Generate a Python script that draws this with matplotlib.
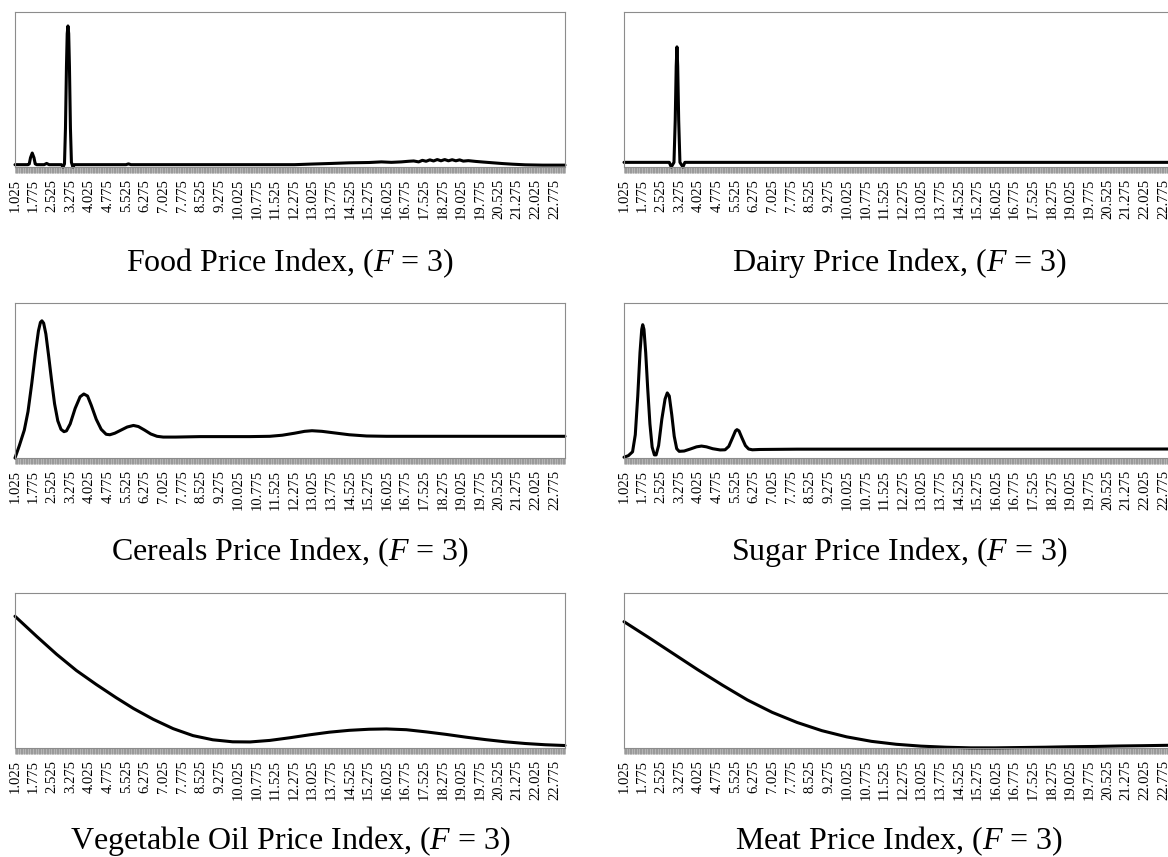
import matplotlib
matplotlib.use('Agg')
import matplotlib.pyplot as plt
import numpy as np

plt.rcParams['font.family'] = 'Liberation Serif'
plt.rcParams['mathtext.fontset'] = 'custom'
plt.rcParams['mathtext.rm'] = 'Liberation Serif'
plt.rcParams['mathtext.it'] = 'Liberation Serif:italic'

# x axis: frequencies 1.025 .. 23.2, step 0.025, labels every 0.75
x_first = 1.025
x_last = 23.2
x_step = 0.025
label_every = 0.75

# values, in percent of panel height
food_x = [1.025, 1.55, 1.6, 1.65, 1.72, 1.79, 1.84, 1.9, 2.2, 2.3, 2.4, 2.9, 2.96, 3.02,
          3.06, 3.1, 3.13, 3.16, 3.19, 3.22, 3.26, 3.3, 3.36, 3.42, 5.5, 5.6, 5.7, 12.3,
          13.0, 13.8, 14.5, 15.3, 15.8, 16.2, 16.6, 16.9, 17.1, 17.3, 17.45, 17.6, 17.75,
          17.9, 18.05, 18.2, 18.35, 18.5, 18.65, 18.8, 18.95, 19.1, 19.3, 19.6, 19.9,
          20.3, 20.7, 21.1, 21.6, 22.3, 23.2]
food_y = [1.5, 1.5, 2.0, 6.0, 9.0, 6.0, 2.0, 1.5, 1.5, 2.3, 1.5, 1.5, 0.0, 2.0,
          25.0, 65.0, 86.0, 91.0, 86.0, 65.0, 25.0, 3.0, 0.0, 1.5, 1.5, 2.0, 1.5, 1.5,
          1.9, 2.3, 2.7, 2.9, 3.3, 3.0, 3.3, 3.7, 3.9, 3.3, 4.3, 3.7, 4.6,
          3.9, 4.8, 4.0, 4.8, 4.0, 4.7, 4.0, 4.6, 3.8, 4.1, 3.6, 3.2,
          2.7, 2.2, 1.8, 1.4, 1.2, 1.2]

dairy_x = [1.025, 2.85, 2.93, 3.04, 3.09, 3.13, 3.16, 3.19, 3.23, 3.28, 3.4, 3.48, 23.2]
dairy_y = [3.0, 3.0, 0.0, 3.0, 30.0, 65.0, 77.5, 65.0, 30.0, 3.0, 0.0, 3.0, 3.0]

cereals_x = [1.025, 1.2, 1.4, 1.55, 1.7, 1.85, 1.97, 2.05, 2.11, 2.18, 2.27, 2.38, 2.5,
             2.62, 2.75, 2.88, 3.0, 3.1, 3.25, 3.45, 3.65, 3.8, 3.95, 4.1, 4.3, 4.5,
             4.7, 4.85, 5.05, 5.3, 5.55, 5.8, 6.0, 6.25, 6.5, 6.75, 7.0, 7.5, 8.5,
             10.5, 11.3, 11.8, 12.3, 12.7, 13.0, 13.4, 13.9, 14.5, 15.2, 16.0, 23.2]
cereals_y = [0.0, 8.0, 18.0, 30.0, 48.0, 68.0, 82.0, 87.5, 88.5, 87.0, 80.0, 66.0, 50.0,
             35.0, 24.0, 18.5, 17.0, 17.5, 22.0, 32.0, 39.5, 41.3, 40.0, 34.0, 25.0, 18.5,
             15.3, 15.0, 16.0, 18.0, 20.0, 21.0, 20.3, 18.0, 15.5, 14.0, 13.5, 13.5, 13.8,
             13.8, 14.0, 14.7, 16.0, 17.2, 17.6, 17.2, 16.2, 15.0, 14.2, 14.0, 14.0]

sugar_x = [1.025, 1.2, 1.37, 1.48, 1.58, 1.67, 1.74, 1.78, 1.83, 1.9, 1.98, 2.07, 2.16,
           2.25, 2.32, 2.42, 2.55, 2.68, 2.77, 2.85, 2.95, 3.05, 3.15, 3.25, 3.45, 3.7,
           3.95, 4.15, 4.35, 4.6, 4.9, 5.1, 5.25, 5.4, 5.52, 5.58, 5.66, 5.78, 5.92,
           6.05, 6.2, 6.5, 8.0, 23.2]
sugar_y = [0.5, 1.5, 4.0, 15.0, 40.0, 68.0, 83.0, 86.0, 83.0, 68.0, 45.0, 22.0, 7.0,
           2.0, 2.0, 8.0, 25.0, 38.0, 42.0, 40.0, 28.0, 14.0, 6.0, 4.3, 4.5, 5.8,
           7.2, 7.7, 7.2, 6.0, 5.2, 5.3, 7.5, 13.0, 17.5, 18.3, 17.5, 13.0, 8.0,
           5.8, 5.3, 5.5, 5.7, 5.8]

vegoil_x = [1.025, 1.9, 2.7, 3.5, 4.3, 5.1, 5.8, 6.6, 7.4, 8.2, 9.0, 9.8, 10.5, 11.3,
            12.1, 12.9, 13.7, 14.5, 15.3, 16.0, 16.8, 17.6, 18.4, 19.2, 20.0, 20.8,
            21.6, 22.4, 23.2]
vegoil_y = [85.0, 72.0, 60.5, 50.0, 41.0, 32.5, 25.5, 18.5, 12.5, 8.0, 5.3, 4.0, 3.9, 4.9,
            6.6, 8.5, 10.2, 11.4, 12.1, 12.3, 11.8, 10.4, 8.8, 7.0, 5.4, 4.0,
            2.9, 2.1, 1.6]

meat_x = [1.025, 2.0, 3.0, 4.0, 5.0, 6.0, 7.0, 8.0, 9.0, 10.0, 11.0, 12.0, 13.0, 14.0,
          15.0, 16.0, 17.0, 18.0, 19.0, 20.0, 21.0, 22.0, 23.2]
meat_y = [81.5, 71.5, 61.0, 50.5, 40.5, 31.0, 23.0, 16.5, 11.2, 7.2, 4.3, 2.4, 1.2, 0.5,
          0.1, 0.1, 0.3, 0.5, 0.8, 1.0, 1.3, 1.5, 1.8]

titles = ['Food Price Index', 'Dairy Price Index', 'Cereals Price Index',
          'Sugar Price Index', 'Vegetable Oil Price Index', 'Meat Price Index']
series = [(food_x, food_y), (dairy_x, dairy_y), (cereals_x, cereals_y),
          (sugar_x, sugar_y), (vegoil_x, vegoil_y), (meat_x, meat_y)]

W, H = 1168, 857
fig = plt.figure(figsize=(W / 100, H / 100), dpi=100)

lefts = [15, 624]
tops = [12, 303, 593]
baselines = [271, 560, 849]
ax_w, ax_h = 550, 155

minor = np.arange(x_first, x_last + 1e-9, x_step)
major = np.arange(x_first, 22.8, label_every)
major_labels = ['%.3f' % v for v in major]

for i, (title, (xs, ys)) in enumerate(zip(titles, series)):
    row, col = divmod(i, 2)
    left = lefts[col]
    top = tops[row]
    ax = fig.add_axes([left / W, 1 - (top + ax_h) / H, ax_w / W, ax_h / H])
    ax.plot(xs, ys, color='black', linewidth=2.2, clip_on=False,
            solid_joinstyle='round', solid_capstyle='round')
    ax.set_xlim(x_first, x_last)
    ax.set_ylim(0, 100)
    ax.set_yticks([])
    ax.set_xticks(minor, minor=True)
    ax.set_xticks(major)
    ax.set_xticklabels(major_labels, rotation=90, fontsize=10.5)
    ax.tick_params(axis='x', which='both', direction='out', length=4.5,
                   width=0.45, color='#8a8a8a', pad=4)
    for s in ax.spines.values():
        s.set_color('#8c8c8c')
        s.set_linewidth(0.8)
    fig.text((left + ax_w / 2) / W, 1 - baselines[row] / H,
             title + r', ($\mathit{F}$ = 3)', ha='center', va='baseline', fontsize=23)

fig.savefig('out.png', dpi=100)
